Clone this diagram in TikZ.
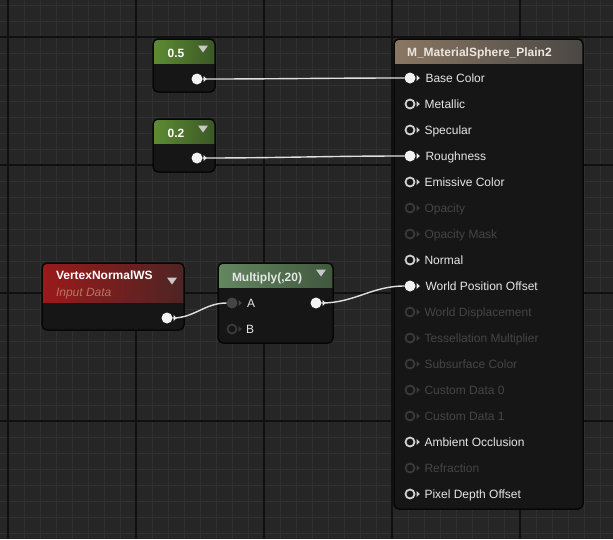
\documentclass[tikz,border=0pt]{standalone}
\usepackage{fontspec}
\setmainfont{Liberation Sans}
\usepackage{tikz}
\usetikzlibrary{arrows,calc,positioning,fit}

\definecolor{gridbg}{HTML}{262626}
\definecolor{gridminor}{HTML}{313131}
\definecolor{gridmajor}{HTML}{101010}
\definecolor{nodebody}{HTML}{161616}
\definecolor{nodeedge}{HTML}{070707}
\definecolor{pinwhite}{HTML}{F2F2F2}
\definecolor{pinring}{HTML}{D0D0D0}
\definecolor{pindim}{HTML}{3A3A3A}
\definecolor{pingrey}{HTML}{454545}
\definecolor{labwhite}{HTML}{E6E6E6}
\definecolor{labdim}{HTML}{454545}
\definecolor{wirecol}{HTML}{E0E0E0}
\definecolor{droptricol}{HTML}{C8C8C8}
\definecolor{constleft}{HTML}{5E8C33}
\definecolor{constright}{HTML}{3A5726}
\definecolor{matleft}{HTML}{8A7763}
\definecolor{matright}{HTML}{4A4744}
\definecolor{mattext}{HTML}{ECE6DE}
\definecolor{vnleft}{HTML}{9A1A1A}
\definecolor{vnright}{HTML}{4E2424}
\definecolor{vnsub}{HTML}{B77563}
\definecolor{mulleft}{HTML}{648760}
\definecolor{mulright}{HTML}{40573E}

\tikzstyle{minorline}=[gridminor, line width=1pt]
\tikzstyle{majorline}=[gridmajor, line width=1.5pt]
\tikzstyle{uebox}=[fill=nodebody, rounded corners=5pt, inner sep=0pt, outer sep=0pt]
\tikzstyle{uerim}=[draw=nodeedge, line width=1.5pt, rounded corners=5pt]
\tikzstyle{sock}=[circle, inner sep=0pt, outer sep=0pt, minimum size=11pt]
\tikzstyle{sock on}=[sock, fill=pinwhite]
\tikzstyle{sock off}=[sock, draw=pinring, line width=1.8pt, minimum size=9pt, fill=nodebody]
\tikzstyle{sock dim}=[sock, draw=pindim, line width=1.8pt, minimum size=9pt, fill=nodebody]
\tikzstyle{sock grey}=[sock, fill=pingrey]
\tikzstyle{tip on}=[fill=pinwhite]
\tikzstyle{tip off}=[fill=pinring]
\tikzstyle{tip dim}=[fill=pindim]
\tikzstyle{tip grey}=[fill=pingrey]
\tikzstyle{lab}=[inner sep=0pt, outer sep=0pt, text height=8.6pt, text depth=0pt, font=\fontsize{12}{14}\selectfont]
\tikzstyle{lab on}=[lab, text=labwhite]
\tikzstyle{lab off}=[lab, text=labwhite]
\tikzstyle{lab dim}=[lab, text=labdim]
\tikzstyle{title}=[lab, font=\fontsize{12}{14}\selectfont\bfseries, text=white, anchor=west]
\tikzstyle{droptri}=[fill=droptricol]
\tikzstyle{wire}=[wirecol, line width=1.4pt]

% pin: name, x, y, state
\newcommand{\uesock}[4]{%
  \node[sock #4] (#1) at (#2,#3) {};
  \fill[tip #4] ([xshift=6.5pt,yshift=3pt]#1.center) -- ([xshift=9.8pt]#1.center)
    -- ([xshift=6.5pt,yshift=-3pt]#1.center) -- cycle;}
% node body: name, x1, y1, x2, y2, header bottom, left colour, right colour
\newcommand{\uebox}[8]{%
  \node[uebox, fit={(#2,#3) (#4,#5)}] (#1) {};
  \begin{scope}
    \clip[rounded corners=5pt] (#1.north west) rectangle (#1.south east);
    \shade[left color=#7, right color=#8] (#2,#3) rectangle (#4,#6);
  \end{scope}
  \draw[uerim] (#1.north west) rectangle (#1.south east);}
\newcommand{\uedrop}[2]{\fill[droptri] (#1-5,#2-3.5) -- (#1+5,#2-3.5) -- (#1,#2+3.5) -- cycle;}

\begin{document}
\begin{tikzpicture}[x=1pt, y=-1pt, >=latex]
  \useasboundingbox (0,0) rectangle (613,539);
  \fill[gridbg] (0,0) rectangle (613,539);
  % grid
  \foreach \gx in {8,24,...,600} \draw[minorline] (\gx,0) -- (\gx,539);
  \foreach \gy in {5,21,...,533} \draw[minorline] (0,\gy) -- (613,\gy);
  \foreach \gx in {8,136,...,520} \draw[majorline] (\gx,0) -- (\gx,539);
  \foreach \gy in {37,165,...,421} \draw[majorline] (0,\gy) -- (613,\gy);

  % constants
  \uebox{cfive}{153}{39}{215}{92}{63}{constleft}{constright}
  \node[title, anchor=center] (cfivet) at (176,53) {0.5};
  \uedrop{203}{49}
  \uesock{cfivepin}{197}{79}{on}

  \uebox{ctwo}{153}{119}{215}{172}{143}{constleft}{constright}
  \node[title, anchor=center] (ctwot) at (176,133) {0.2};
  \uedrop{203}{129}
  \uesock{ctwopin}{197}{158}{on}

  % vertex normal
  \uebox{vn}{42}{263}{184}{330}{302}{vnleft}{vnright}
  \node[title] (vnt) at (56,275) {VertexNormalWS};
  \node[lab, anchor=west, text=vnsub, font=\fontsize{12}{14}\selectfont\itshape] (vns) at (56,292) {Input Data};
  \uedrop{172}{281}
  \uesock{vnpin}{167}{318}{on}

  % multiply
  \uebox{mul}{218}{263}{333}{343}{287}{mulleft}{mulright}
  \node[title, text=labwhite] (mult) at (232,277) {Multiply(,20)};
  \uedrop{321}{273}
  \uesock{mula}{232}{303}{grey}
  \node[lab on, right=9.5pt of mula] (mulal) {A};
  \uesock{mulb}{232}{329}{dim}
  \node[lab on, right=9.5pt of mulb] (mulbl) {B};
  \uesock{mulout}{316}{303}{on}

  % material
  \uebox{mat}{394}{39}{583}{509}{63}{matleft}{matright}
  \node[title, text=mattext] (matt) at (407,52) {M\_MaterialSphere\_Plain2};
  \foreach \lab/\st [count=\i from 0] in {Base Color/on, Metallic/off, Specular/off,
      Roughness/on, Emissive Color/off, Opacity/dim, Opacity Mask/dim, Normal/off,
      World Position Offset/on, World Displacement/dim, Tessellation Multiplier/dim,
      Subsurface Color/dim, Custom Data 0/dim, Custom Data 1/dim, Ambient Occlusion/off,
      Refraction/dim, Pixel Depth Offset/off}{
    \uesock{m\i}{410}{78+26*\i}{\st}
    \node[lab \st, right=10pt of m\i] (ml\i) {\lab};
  }

  % wires
  \draw[wire] (cfivepin.east) to[out=0, in=180] (m0.west);
  \draw[wire] (ctwopin.east) to[out=0, in=180] (m3.west);
  \draw[wire] (vnpin.east) to[out=0, in=180] (mula.west);
  \draw[wire] (mulout.east) to[out=0, in=180] (m8.west);
\end{tikzpicture}
\end{document}
